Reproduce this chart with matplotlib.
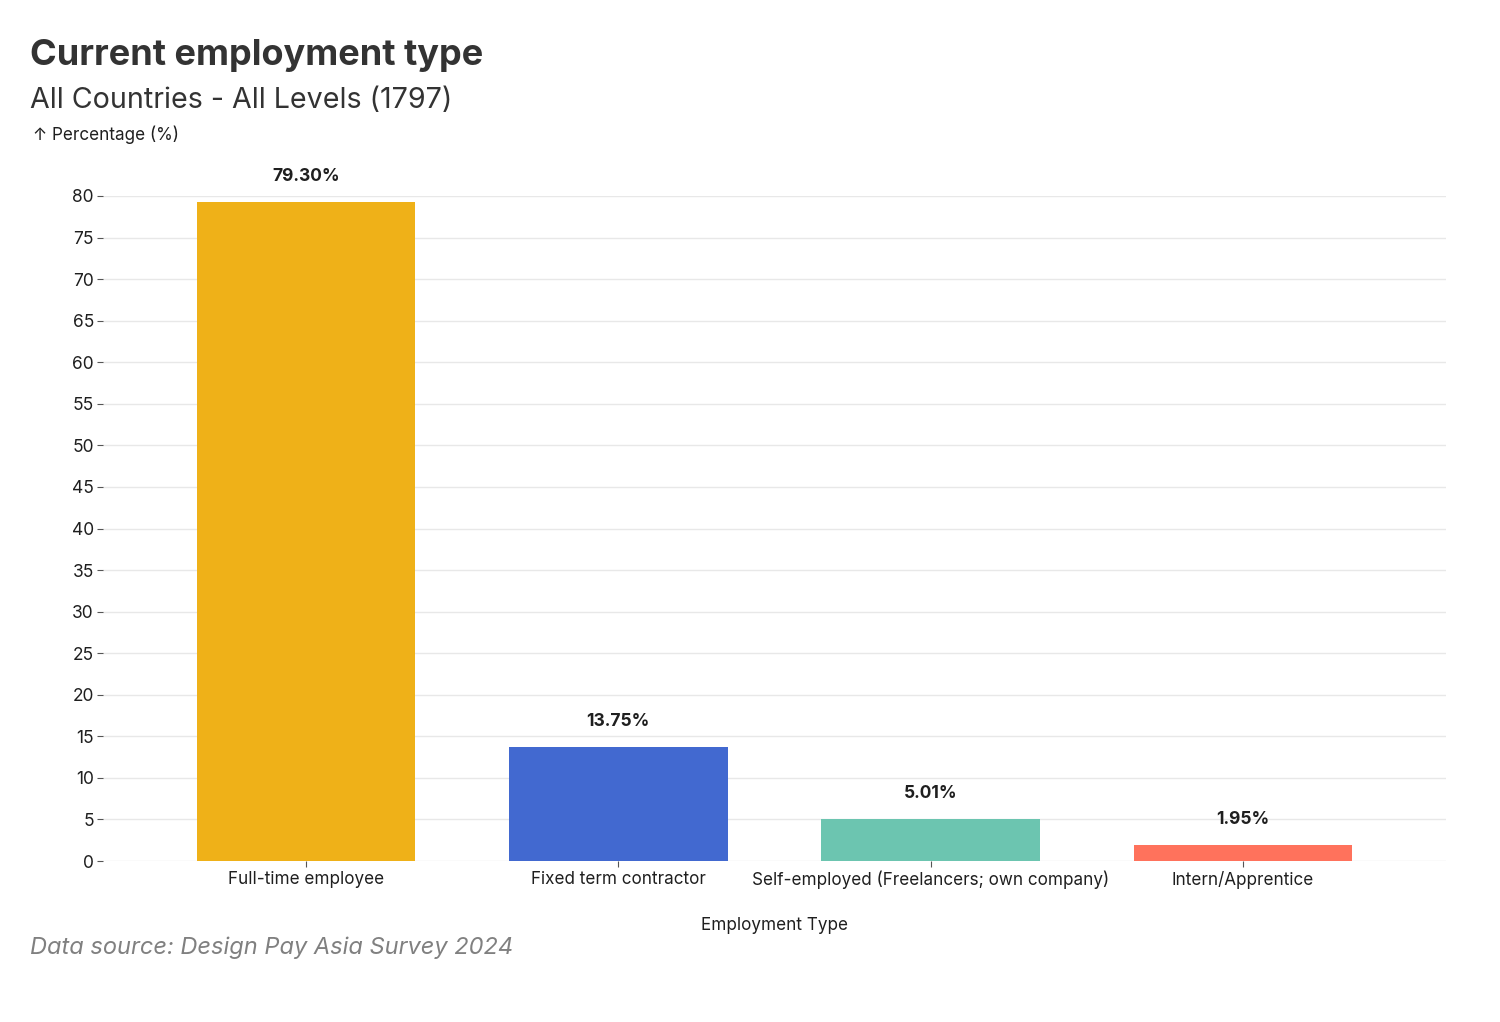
import matplotlib
matplotlib.use("Agg")
import numpy as np
import matplotlib.pyplot as plt

# data
categories = ["Full-time employee", "Fixed term contractor",
              "Self-employed (Freelancers; own company)", "Intern/Apprentice"]
percentages = [79.30, 13.75, 5.01, 1.95]
bar_colors = ["#EFB118", "#4269D0", "#6CC5B0", "#FF725C"]
y_ticks = list(range(0, 85, 5))

plt.rcParams['font.family'] = ['Inter', 'DejaVu Sans']
text_dark = "#1f1f1f"

fig = plt.figure(figsize=(15, 10.22), dpi=100)
ax = fig.add_axes([103 / 1500, 1 - 861 / 1022, (1446 - 103) / 1500, (861 - 196) / 1022])

x = np.arange(len(categories))
ax.bar(x, percentages, width=0.70, color=bar_colors, zorder=2)

for xi, v in zip(x, percentages):
    ax.annotate('{:.2f}%'.format(v), (xi, v), xytext=(0, 18.5), textcoords='offset points',
                ha='center', va='center', fontsize=12.5, fontweight='bold',
                color=text_dark, annotation_clip=False)

ax.set_xlim(-0.65, 3.65)
ax.set_ylim(0, 80)
ax.set_yticks(y_ticks)
ax.set_xticks(x)
ax.set_xticklabels(categories)
ax.grid(axis='y', color='#e8e8e8', linewidth=1.0, zorder=0)
ax.set_axisbelow(True)
for s in ax.spines.values():
    s.set_visible(False)
ax.tick_params(axis='y', length=4.5, width=0.8, color='#555555', pad=2,
               labelsize=12.5, labelcolor=text_dark)
ax.tick_params(axis='x', length=4, width=0.8, color='#555555', pad=3,
               labelsize=12.3, labelcolor=text_dark)

ax.set_xlabel("Employment Type", fontsize=12.3, color=text_dark, labelpad=20)

fig.text(30 / 1500, 1 - 55 / 1022, "Current employment type", fontsize=26,
         fontweight='bold', color='#333333', va='center', ha='left')
fig.text(30 / 1500, 1 - 101 / 1022, "All Countries - All Levels (1797)", fontsize=20.6,
         color='#333333', va='center', ha='left')
fig.text(33 / 1500, 1 - 135 / 1022, "↑ Percentage (%)", fontsize=12.3,
         color=text_dark, va='center', ha='left')
fig.text(30 / 1500, 1 - 948 / 1022, "Data source: Design Pay Asia Survey 2024", fontsize=17,
         style='italic', color='#808080', va='center', ha='left')

fig.savefig("out.png", dpi=100, facecolor='white')
